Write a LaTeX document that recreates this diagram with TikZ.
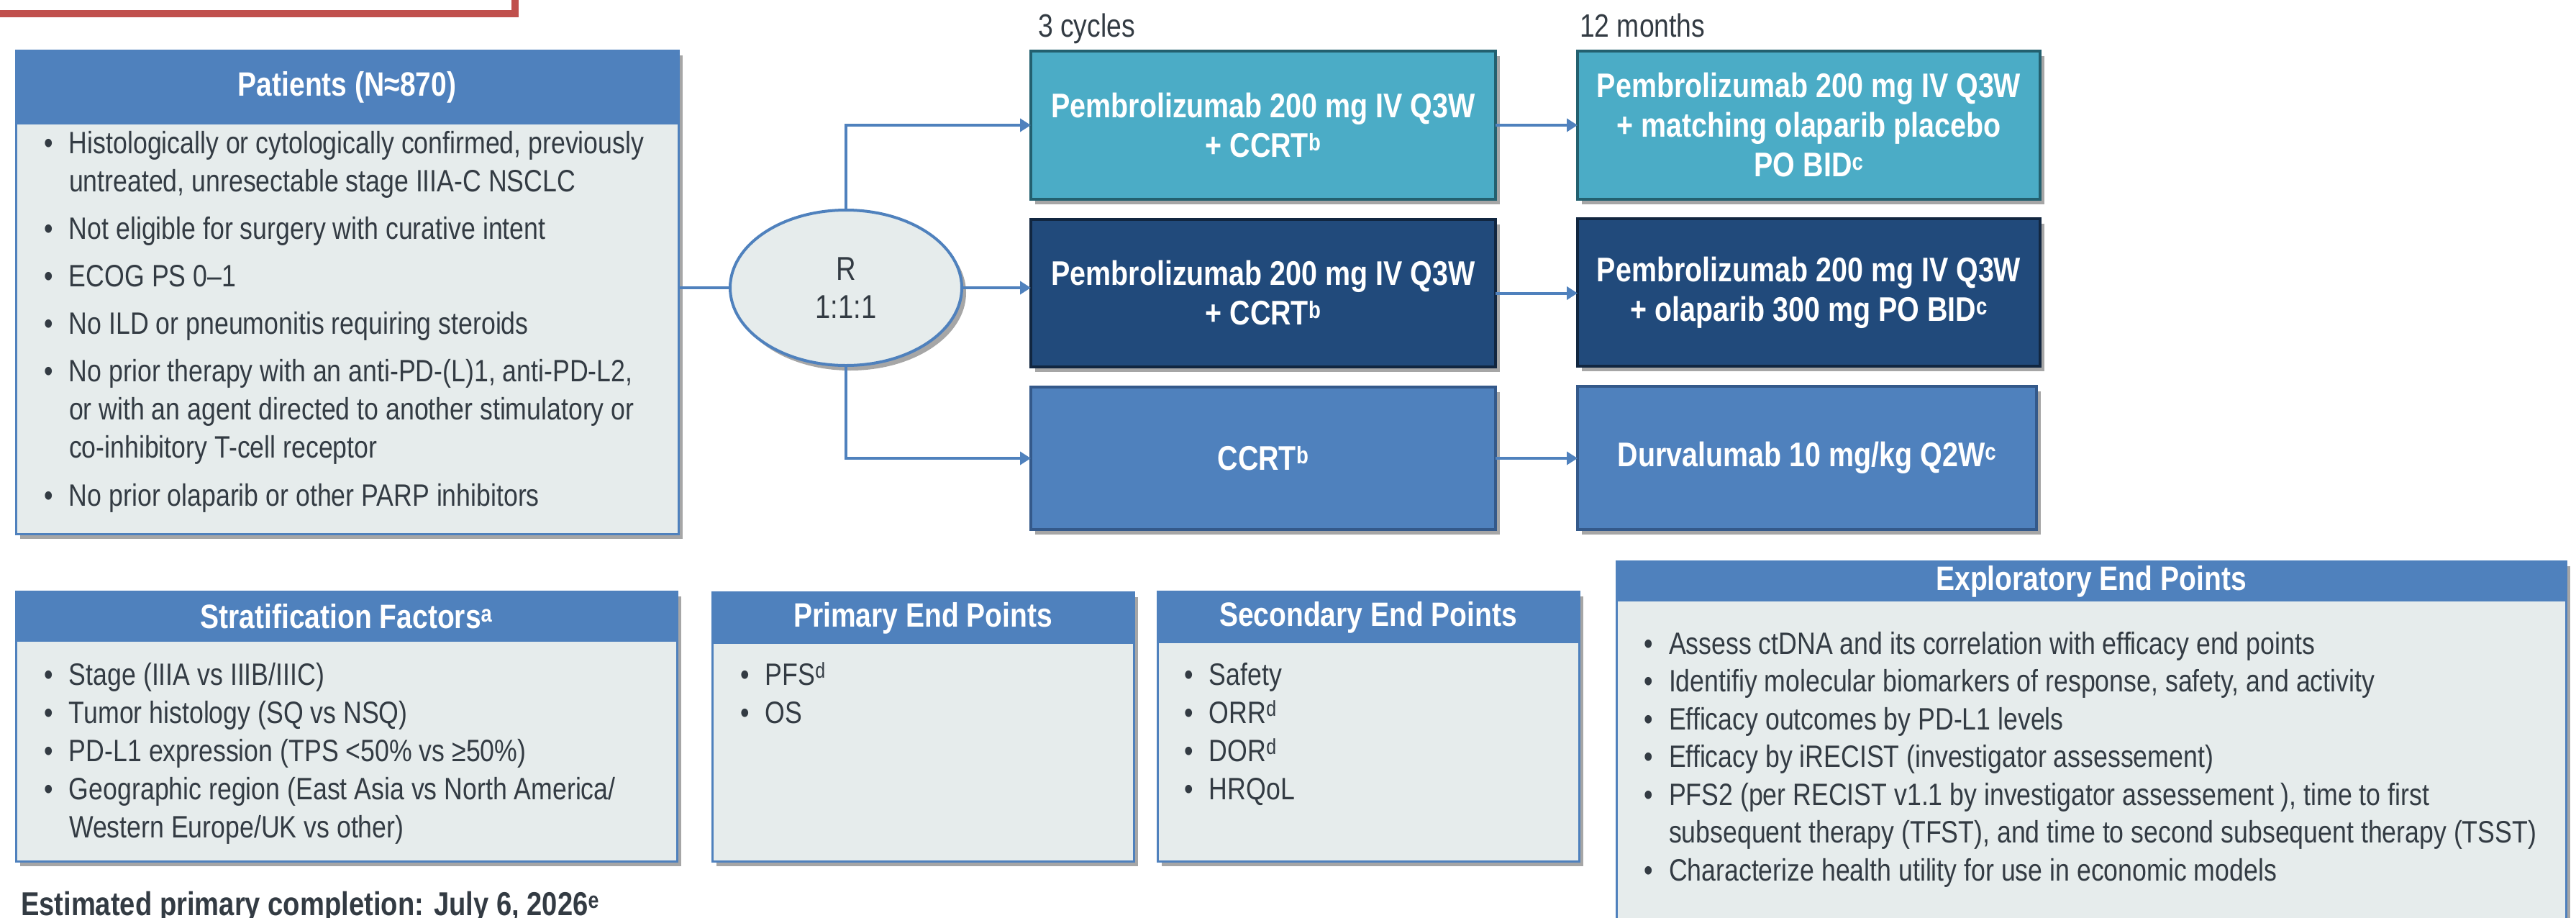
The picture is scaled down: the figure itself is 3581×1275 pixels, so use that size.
\documentclass[tikz,border=0pt]{standalone}
\usepackage{fontspec}
\setmainfont{Liberation Sans}[FakeStretch=0.83]
\usetikzlibrary{arrows.meta,shadows,shapes.geometric}

\definecolor{blu}{HTML}{4F81BD}
\definecolor{paneltint}{HTML}{E6ECEC}
\definecolor{ink}{HTML}{333B43}
\definecolor{alert}{HTML}{C0504D}
\definecolor{tealfill}{HTML}{4BACC6}
\definecolor{tealedge}{HTML}{23606F}
\definecolor{navyfill}{HTML}{214A7B}
\definecolor{navyedge}{HTML}{112640}
\definecolor{blueedge}{HTML}{34598A}

\newcommand\bul{\makebox[35pt][l]{\textbullet}}
\newcommand\hang{\hspace*{35pt}}

\tikzset{
  every node/.style={inner sep=0pt, outer sep=0pt},
  softshadow/.style={drop shadow={shadow xshift=6pt, shadow yshift=-7pt, opacity=0.35, fill=black}},
  panel/.style={rectangle, draw=blu, line width=3pt, fill=paneltint, softshadow},
  hdr/.style={rectangle, fill=blu, text=white, font=\fontsize{47}{54}\selectfont\bfseries},
  arm/.style={rectangle, line width=4pt, text=white, align=center, softshadow,
              font=\fontsize{47.5}{55}\selectfont\bfseries},
  bullets/.style={anchor=base west, text=ink, font=\fontsize{43}{53}\selectfont},
  period/.style={anchor=base west, text=ink, font=\fontsize{45}{54}\selectfont},
  link/.style={draw=blu, line width=4pt},
  arrowlink/.style={link, -{Triangle[length=15pt,width=18pt]}},
}

\begin{document}
\begin{tikzpicture}[x=1pt, y=-1pt]
\useasboundingbox (0,0) rectangle (3581,1275);
\clip (0,0) rectangle (3581,1275);

% frame of the title bar above
\draw[draw=alert, line width=10pt] (-40,-80) rectangle (716,18.5);

% ---------------- patients panel ----------------
\node[panel, minimum width=921pt, minimum height=672pt] (patbody) at (482.5,406) {};
\node[hdr, minimum width=918pt, minimum height=102pt] (pathdr) at (482.5,121.5) {Patients (N≈870)};
\node[bullets] (patlist) at (61,213) {%
\begin{tabular}[t]{@{}l@{}}
\bul Histologically or cytologically confirmed, previously\\
\hang untreated, unresectable stage IIIA-C NSCLC\\[13pt]
\bul Not eligible for surgery with curative intent\\[13pt]
\bul ECOG PS 0–1\\[13pt]
\bul No ILD or pneumonitis requiring steroids\\[13pt]
\bul No prior therapy with an anti-PD-(L)1, anti-PD-L2,\\
\hang or with an agent directed to another stimulatory or\\
\hang co-inhibitory T-cell receptor\\[14pt]
\bul No prior olaparib or other PARP inhibitors
\end{tabular}};

% ---------------- randomisation ----------------
\node[ellipse, draw=blu, line width=4pt, fill=paneltint, softshadow,
      minimum width=322pt, minimum height=216pt, align=center, text=ink,
      font=\fontsize{46}{53}\selectfont] (r) at (1176,400) {R\\1:1:1};

% ---------------- treatment arms ----------------
\node[period] (cyc) at (1443,51) {3 cycles};
\node[period] (mon) at (2196,51) {12 months};

\node[arm, fill=tealfill, draw=tealedge, minimum width=646pt, minimum height=206pt] (c1b1) at (1756,174)
  {Pembrolizumab 200 mg IV Q3W\\+ CCRT\textsuperscript{b}};
\node[arm, fill=navyfill, draw=navyedge, minimum width=646pt, minimum height=205pt] (c1b2) at (1756,407.5)
  {Pembrolizumab 200 mg IV Q3W\\+ CCRT\textsuperscript{b}};
\node[arm, fill=blu, draw=blueedge, minimum width=646pt, minimum height=198pt] (c1b3) at (1756,637)
  {CCRT\textsuperscript{b}};

\node[arm, fill=tealfill, draw=tealedge, minimum width=643pt, minimum height=206pt] (c2b1) at (2514.5,174)
  {Pembrolizumab 200 mg IV Q3W\\+ matching olaparib placebo\\PO BID\textsuperscript{c}};
\node[arm, fill=navyfill, draw=navyedge, minimum width=643pt, minimum height=205pt] (c2b2) at (2514.5,406.5)
  {Pembrolizumab 200 mg IV Q3W\\+ olaparib 300 mg PO BID\textsuperscript{c}};
\node[arm, fill=blu, draw=blueedge, minimum width=638pt, minimum height=199pt] (c2b3) at (2512,636)
  {Durvalumab 10 mg/kg Q2W\textsuperscript{c}};

% ---------------- connectors ----------------
\draw[link] (patbody.east |- r.west) -- (r.west);
\draw[arrowlink] (r.north) |- (c1b1.west);
\draw[arrowlink] (r.east) -- (r.east -| c1b2.west);
\draw[arrowlink] (r.south) |- (c1b3.west);
\draw[arrowlink] (c1b1.east) -- (c1b1.east -| c2b1.west);
\draw[arrowlink] (c1b2.east) -- (c1b2.east -| c2b2.west);
\draw[arrowlink] (c1b3.east) -- (c1b3.east -| c2b3.west);

% ---------------- stratification ----------------
\node[panel, minimum width=919pt, minimum height=375pt] (strbody) at (481.5,1009.5) {};
\node[hdr, minimum width=916pt, minimum height=69pt] (strhdr) at (481.5,857) {Stratification Factors\textsuperscript{a}};
\node[bullets] (strlist) at (61,952) {%
\begin{tabular}[t]{@{}l@{}}
\bul Stage (IIIA vs IIIB/IIIC)\\
\bul Tumor histology (SQ vs NSQ)\\
\bul PD-L1 expression (TPS <50\% vs ≥50\%)\\
\bul Geographic region (East Asia vs North America/\\
\hang Western Europe/UK vs other)
\end{tabular}};

% ---------------- primary end points ----------------
\node[panel, minimum width=586pt, minimum height=374pt] (pribody) at (1283,1010) {};
\node[hdr, minimum width=583pt, minimum height=71pt] (prihdr) at (1283,859) {Primary End Points};
\node[bullets] (prilist) at (1029,952) {%
\begin{tabular}[t]{@{}l@{}}
\bul PFS\textsuperscript{d}\\
\bul OS
\end{tabular}};

% ---------------- secondary end points ----------------
\node[panel, minimum width=586pt, minimum height=375pt] (secbody) at (1902,1009.5) {};
\node[hdr, minimum width=583pt, minimum height=71pt] (sechdr) at (1902,858) {Secondary End Points};
\node[bullets] (seclist) at (1646,952) {%
\begin{tabular}[t]{@{}l@{}}
\bul Safety\\
\bul ORR\textsuperscript{d}\\
\bul DOR\textsuperscript{d}\\
\bul HRQoL
\end{tabular}};

% ---------------- exploratory end points ----------------
\node[panel, minimum width=1320pt, minimum height=560pt] (expbody) at (2907,1060) {};
\node[hdr, minimum width=1317pt, minimum height=55pt] (exphdr) at (2907,808) {Exploratory End Points};
\node[bullets, font=\fontsize{43}{52.5}\selectfont] (explist) at (2285,909) {%
\begin{tabular}[t]{@{}l@{}}
\bul Assess ctDNA and its correlation with efficacy end points\\
\bul Identifiy molecular biomarkers of response, safety, and activity\\
\bul Efficacy outcomes by PD-L1 levels\\
\bul Efficacy by iRECIST (investigator assessement)\\
\bul PFS2 (per RECIST v1.1 by investigator assessement ), time to first\\
\hang subsequent therapy (TFST), and time to second subsequent therapy (TSST)\\
\bul Characterize health utility for use in economic models
\end{tabular}};

% ---------------- footer ----------------
\node[anchor=base west, text=ink, font=\fontsize{46}{54}\selectfont\bfseries] (footer) at (29,1272)
  {Estimated primary completion: July 6, 2026\textsuperscript{e}};

\end{tikzpicture}
\end{document}
